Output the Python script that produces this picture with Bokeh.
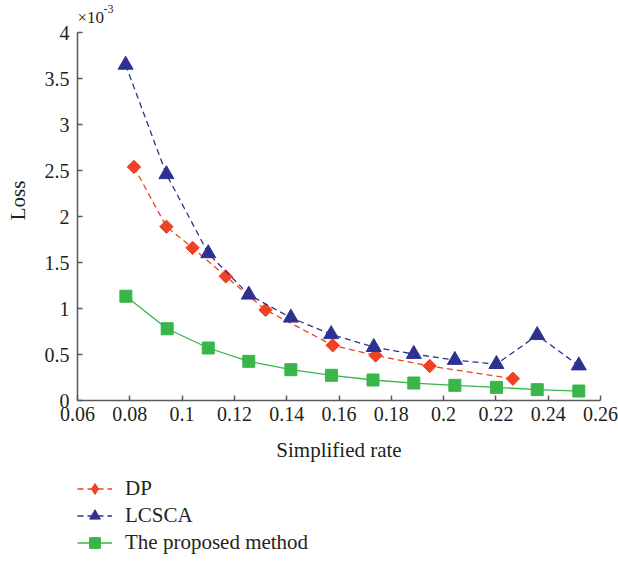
import math
from bokeh.plotting import figure
from bokeh.layouts import column
from bokeh.models import Legend, LegendItem, Label, FixedTicker, Range1d
from bokeh.embed import file_html
from bokeh.resources import INLINE

# Loss values are in units of 1e-3
dp_rate = [0.0816, 0.094, 0.104, 0.1167, 0.1319, 0.1576, 0.174, 0.1947, 0.2265]
dp_loss = [2.54, 1.89, 1.66, 1.35, 0.985, 0.60, 0.49, 0.375, 0.237]

lcsca_rate = [0.0784, 0.094, 0.110, 0.1255, 0.1416, 0.157, 0.1733, 0.1886, 0.2043, 0.2202, 0.2358, 0.2517]
lcsca_loss = [3.65, 2.46, 1.60, 1.15, 0.90, 0.72, 0.58, 0.505, 0.44, 0.395, 0.71, 0.38]

prop_rate = [0.0785, 0.0943, 0.110, 0.1255, 0.1416, 0.1571, 0.173, 0.1886, 0.2043, 0.2202, 0.2358, 0.2517]
prop_loss = [1.134, 0.78, 0.571, 0.426, 0.335, 0.274, 0.223, 0.19, 0.165, 0.143, 0.118, 0.103]

x_ticks = [0.06, 0.08, 0.10, 0.12, 0.14, 0.16, 0.18, 0.20, 0.22, 0.24, 0.26]
x_tick_labels = ["0.06", "0.08", "0.1", "0.12", "0.14", "0.16", "0.18", "0.2", "0.22", "0.24", "0.26"]
y_ticks = [0, 0.5, 1, 1.5, 2, 2.5, 3, 3.5, 4]
y_tick_labels = ["0", "0.5", "1", "1.5", "2", "2.5", "3", "3.5", "4"]
series_names = ["DP", "LCSCA", "The proposed method"]

RED = "#EF4123"
BLUE = "#2E3192"
GREEN = "#39B54A"
FONT = "Liberation Serif"
TEXT = "#231F20"
AXIS = "#58595B"

# DP uses a square turned on its corner as a diamond in the plot;
# the legend (which ignores marker angles) uses the diamond marker
series = [
    dict(name=series_names[0], x=dp_rate, y=dp_loss, color=RED, dash="6 4",
         marker="square", size=9.5, angle=math.pi / 4, legend_marker="diamond", legend_size=16),
    dict(name=series_names[1], x=lcsca_rate, y=lcsca_loss, color=BLUE, dash="6 4",
         marker="triangle", size=15, angle=0.0, legend_marker="triangle", legend_size=15),
    dict(name=series_names[2], x=prop_rate, y=prop_loss, color=GREEN, dash="solid",
         marker="square", size=12, angle=0.0, legend_marker="square", legend_size=10),
]

# main plot; the value range runs past 4 so the scale note fits inside the frame,
# while the axis itself stops at 4
p = figure(frame_width=523, frame_height=400,
           x_range=(0.06, 0.26), y_range=(0, 4.35),
           output_backend="svg", toolbar_location=None,
           min_border_left=77, min_border_right=18, min_border_top=0, min_border_bottom=75,
           background_fill_color="white", border_fill_color="white")
p.outline_line_color = None
p.grid.visible = False

for ax in (p.xaxis[0], p.yaxis[0]):
    ax.axis_line_color = AXIS
    ax.axis_line_width = 1.5
    ax.major_tick_line_color = AXIS
    ax.major_tick_line_width = 1.5
    ax.major_tick_in = 5
    ax.major_tick_out = 0
    ax.minor_tick_line_color = None
    ax.major_label_text_font = FONT
    ax.major_label_text_font_size = "20px"
    ax.major_label_text_color = TEXT
    ax.axis_label_text_font = FONT
    ax.axis_label_text_font_size = "21px"
    ax.axis_label_text_font_style = "normal"
    ax.axis_label_text_color = TEXT

p.xaxis.ticker = FixedTicker(ticks=x_ticks)
p.xaxis.major_label_overrides = dict(zip(x_ticks, x_tick_labels))
p.yaxis.ticker = FixedTicker(ticks=y_ticks)
p.yaxis.major_label_overrides = dict(zip(y_ticks, y_tick_labels))
p.yaxis.bounds = (0, 4)
p.xaxis.axis_label = "Simplified rate"
p.yaxis.axis_label = "Loss"
p.xaxis.major_label_standoff = 6
p.xaxis.axis_label_standoff = 14
p.yaxis.major_label_standoff = 8
p.yaxis.axis_label_standoff = 12

for s in series:
    p.line(s["x"], s["y"], line_color=s["color"], line_width=1.3, line_dash=s["dash"])
    p.scatter(s["x"], s["y"], marker=s["marker"], size=s["size"], angle=s["angle"],
              fill_color=s["color"], line_color=s["color"])

# scale factor shown above the value axis
p.add_layout(Label(x=0.06, y=4.165, text="\u00d710", text_font=FONT, text_font_size="17px",
                   text_color=TEXT, text_baseline="middle", text_align="left"))
p.add_layout(Label(x=0.0699, y=4.258, text="-3", text_font=FONT, text_font_size="12px",
                   text_color=TEXT, text_baseline="middle", text_align="left"))

# legend strip under the plot; its renderers reuse the series but sit outside
# the strip's visible range, so only the legend entries show
lg = figure(width=618, height=87, output_backend="svg", toolbar_location=None,
            x_range=Range1d(-2, -1), y_range=Range1d(-2, -1),
            x_axis_location=None, y_axis_location=None,
            min_border_left=71, min_border_right=0, min_border_top=0, min_border_bottom=0,
            background_fill_color="white", border_fill_color="white")
lg.outline_line_color = None
lg.grid.visible = False

items = []
for s in series:
    ln = lg.line(s["x"], s["y"], line_color=s["color"], line_width=1.3, line_dash=s["dash"])
    mk = lg.scatter(s["x"], s["y"], marker=s["legend_marker"], size=s["legend_size"],
                    fill_color=s["color"], line_color=s["color"])
    items.append(LegendItem(label=s["name"], renderers=[ln, mk]))

legend = Legend(items=items, location="top_left", orientation="vertical")
legend.border_line_color = None
legend.background_fill_alpha = 0
legend.margin = 0
legend.padding = 6
legend.spacing = 0
legend.glyph_width = 35
legend.glyph_height = 27
legend.label_height = 27
legend.label_standoff = 13
legend.label_text_font = FONT
legend.label_text_font_size = "21px"
legend.label_text_color = TEXT
legend.label_text_baseline = "middle"
lg.add_layout(legend, "center")

layout = column(p, lg, spacing=0)
open("out.html", "w").write(file_html(layout, INLINE))
